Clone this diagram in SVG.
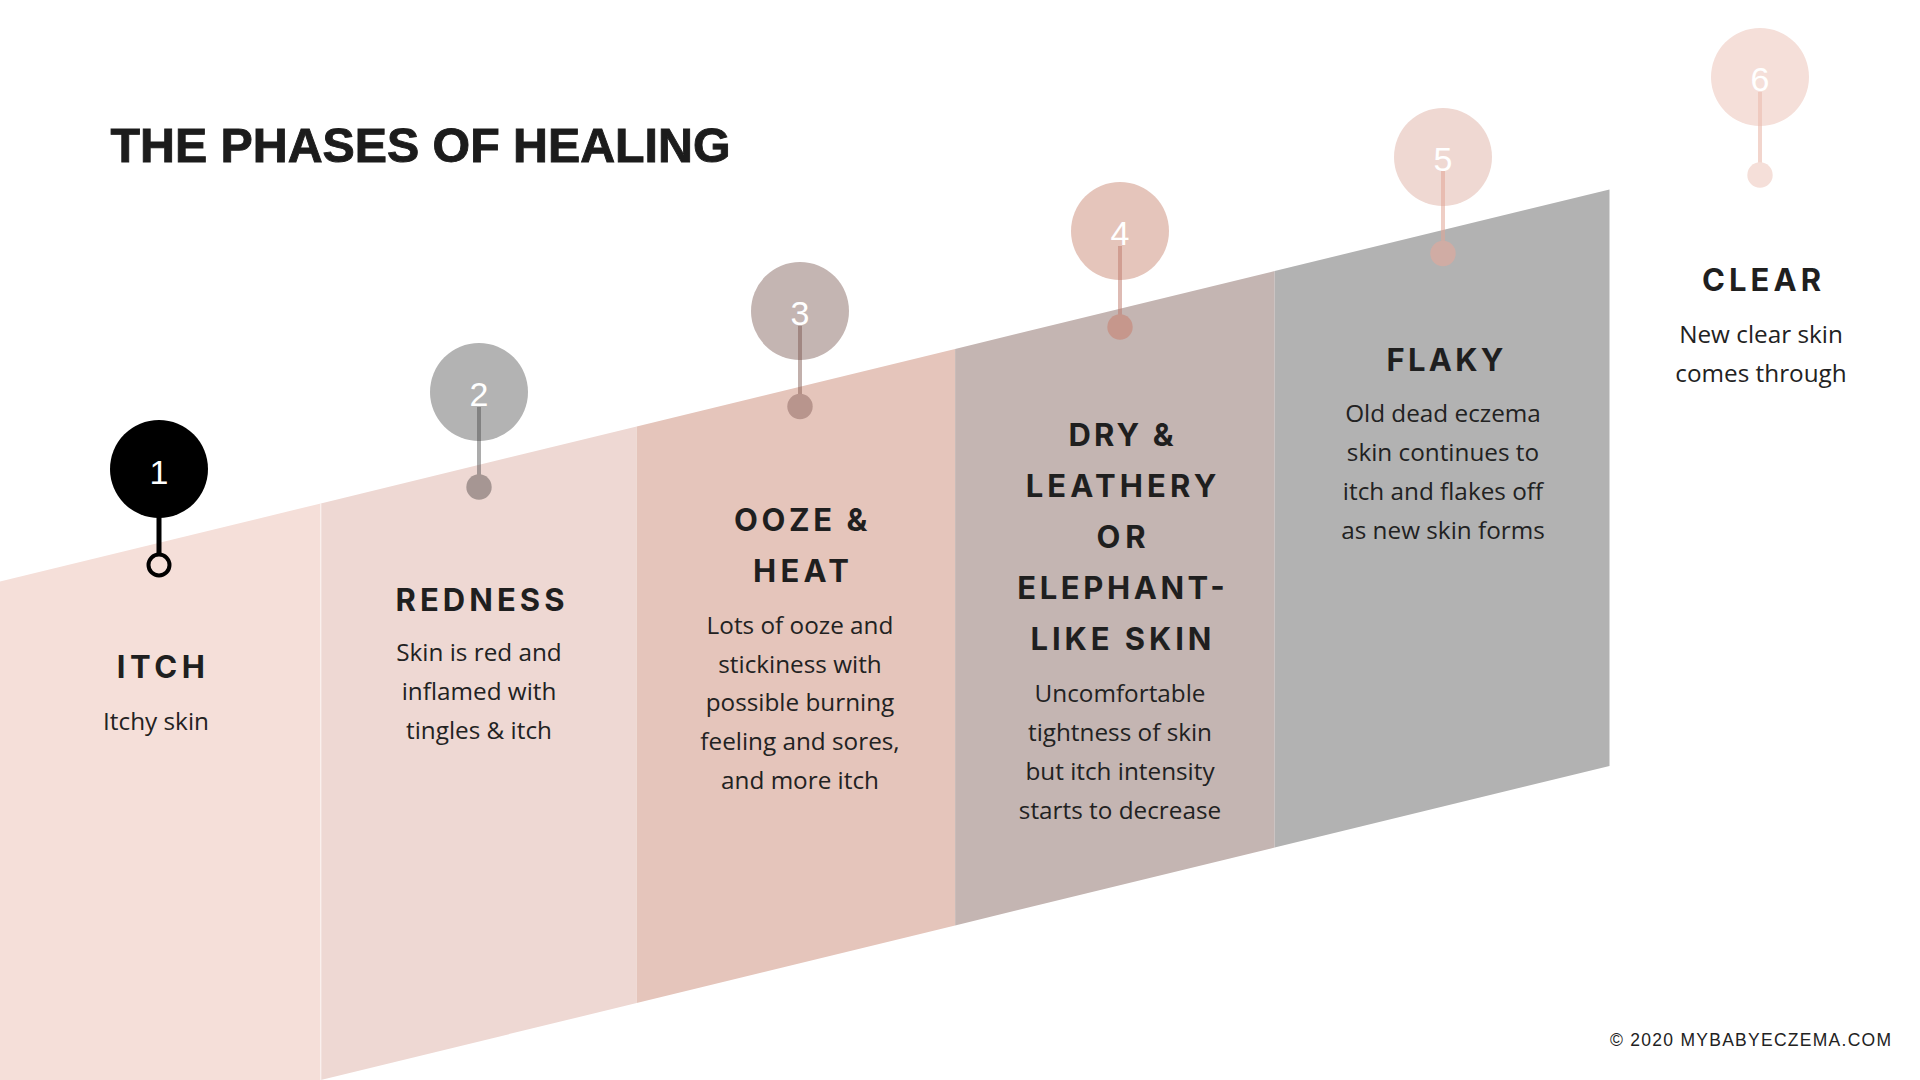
<svg xmlns="http://www.w3.org/2000/svg" width="1920" height="1080" viewBox="0 0 1920 1080">
<style>
.title{font-family:"Liberation Sans",Arial,sans-serif;font-weight:700;font-size:48px;fill:#1c1c1c;stroke:#1c1c1c;stroke-width:0.9px}
.num{font-family:"Liberation Sans",Arial,sans-serif;font-size:34px;fill:#ffffff;text-anchor:middle}
.head{font-family:Inter,"Liberation Sans",sans-serif;font-weight:700;font-size:31px;fill:#1f1f1f;text-anchor:middle}
.desc{font-family:"Open Sans","Liberation Sans",sans-serif;font-size:24.3px;fill:#222222;text-anchor:middle}
.copy{font-family:"Liberation Sans",Arial,sans-serif;font-size:17.5px;fill:#222222}
</style>
<rect width="1920" height="1080" fill="#ffffff"/>
<g id="bands">
<polygon points="0,581.6 320.8,503.4 320.8,1080 0,1080" fill="#F5DFD9"/>
<polygon points="320.8,503.4 636.7,426.4 636.7,1003 320.8,1080" fill="#EED8D3"/>
<polygon points="636.7,426.4 955.1,348.9 955.1,925.4 636.7,1003" fill="#E5C5BB"/>
<polygon points="955.1,348.9 1274.7,271 1274.7,847.6 955.1,925.4" fill="#C4B5B2"/>
<polygon points="1274.7,271 1609.5,189.4 1609.5,766 1274.7,847.6" fill="#B2B2B2"/>
<line x1="320.8" y1="503.4" x2="320.8" y2="1080" stroke="#ffffff" stroke-opacity="0.6" stroke-width="1.2"/>
</g>
<text class="title" x="110.5" y="162" textLength="620" lengthAdjust="spacingAndGlyphs">THE PHASES OF HEALING</text>
<g id="connectors">
<line x1="159" y1="515" x2="159" y2="555" stroke="#000" stroke-width="5"/>
<line x1="479" y1="407" x2="479" y2="488" stroke="rgb(70,70,70)" stroke-opacity="0.45" stroke-width="4"/>
<line x1="800" y1="326" x2="800" y2="407" stroke="rgb(120,80,72)" stroke-opacity="0.45" stroke-width="4"/>
<line x1="1120" y1="246" x2="1120" y2="327" stroke="rgb(190,120,105)" stroke-opacity="0.5" stroke-width="4"/>
<line x1="1443" y1="171" x2="1443" y2="252" stroke="rgb(225,165,150)" stroke-opacity="0.55" stroke-width="4"/>
<line x1="1760" y1="92" x2="1760" y2="173" stroke="rgb(235,190,178)" stroke-opacity="0.65" stroke-width="4"/>
</g>
<g id="phase1">
<circle cx="159" cy="469" r="49" fill="#000000"/>
<text class="num" x="159" y="484">1</text>
<circle cx="159" cy="565" r="10.5" fill="none" stroke="#000" stroke-width="4"/>
<text class="head" x="160.8" y="678" textLength="88" lengthAdjust="spacing">ITCH</text>
<text class="desc" x="156" y="729.6">Itchy skin</text>
</g>
<g id="phase2">
<circle cx="479" cy="392" r="49" fill="#B3B3B3"/>
<text class="num" x="479" y="406">2</text>
<line x1="479" y1="407" x2="479" y2="441" stroke="rgb(70,70,70)" stroke-opacity="0.45" stroke-width="4"/>
<circle cx="479" cy="487" r="12.7" fill="#A69693"/>
<text class="head" x="480" y="611" textLength="169" lengthAdjust="spacing">REDNESS</text>
<text class="desc" x="479" y="661">Skin is red and</text>
<text class="desc" x="479" y="700">inflamed with</text>
<text class="desc" x="479" y="739">tingles &amp; itch</text>
</g>
<g id="phase3">
<circle cx="800" cy="311" r="49" fill="#C4B5B2"/>
<text class="num" x="800" y="325">3</text>
<line x1="800" y1="326" x2="800" y2="360" stroke="rgb(120,80,72)" stroke-opacity="0.45" stroke-width="4"/>
<circle cx="800" cy="406.5" r="12.7" fill="#B8958D"/>
<text class="head" x="800.7" y="531" textLength="133.5" lengthAdjust="spacing">OOZE &amp;</text>
<text class="head" x="801" y="581.5" textLength="96" lengthAdjust="spacing">HEAT</text>
<text class="desc" x="800" y="633.5">Lots of ooze and</text>
<text class="desc" x="800" y="672.5">stickiness with</text>
<text class="desc" x="800" y="711">possible burning</text>
<text class="desc" x="800" y="750">feeling and sores,</text>
<text class="desc" x="800" y="789">and more itch</text>
</g>
<g id="phase4">
<circle cx="1120" cy="231" r="49" fill="#E5C5BB"/>
<text class="num" x="1120" y="245">4</text>
<line x1="1120" y1="246" x2="1120" y2="280" stroke="rgb(190,120,105)" stroke-opacity="0.5" stroke-width="4"/>
<circle cx="1120" cy="327" r="12.7" fill="#C6978C"/>
<text class="head" x="1121" y="446" textLength="105" lengthAdjust="spacing">DRY &amp;</text>
<text class="head" x="1121" y="497.4" textLength="190.6" lengthAdjust="spacing">LEATHERY</text>
<text class="head" x="1121" y="548" textLength="49" lengthAdjust="spacing">OR</text>
<text class="head" x="1121" y="599.3" textLength="207.6" lengthAdjust="spacing">ELEPHANT-</text>
<text class="head" x="1121" y="650" textLength="181" lengthAdjust="spacing">LIKE SKIN</text>
<text class="desc" x="1120" y="702">Uncomfortable</text>
<text class="desc" x="1120" y="741">tightness of skin</text>
<text class="desc" x="1120" y="780">but itch intensity</text>
<text class="desc" x="1120" y="818.5">starts to decrease</text>
</g>
<g id="phase5">
<circle cx="1443" cy="157" r="49" fill="#EFD8D2"/>
<text class="num" x="1443" y="171">5</text>
<line x1="1443" y1="171" x2="1443" y2="206" stroke="rgb(225,165,150)" stroke-opacity="0.55" stroke-width="4"/>
<circle cx="1443" cy="253.5" r="12.7" fill="#D0ACA4"/>
<text class="head" x="1445" y="371" textLength="117" lengthAdjust="spacing">FLAKY</text>
<text class="desc" x="1443" y="421.7">Old dead eczema</text>
<text class="desc" x="1443" y="460.5">skin continues to</text>
<text class="desc" x="1443" y="500">itch and flakes off</text>
<text class="desc" x="1443" y="538.5">as new skin forms</text>
</g>
<g id="phase6">
<circle cx="1760" cy="77" r="49" fill="#F5DFD9"/>
<text class="num" x="1760" y="91">6</text>
<line x1="1760" y1="92" x2="1760" y2="126" stroke="rgb(235,190,178)" stroke-opacity="0.65" stroke-width="4"/>
<circle cx="1760" cy="175" r="12.7" fill="#F5DFD9"/>
<text class="head" x="1761.5" y="291" textLength="119" lengthAdjust="spacing">CLEAR</text>
<text class="desc" x="1761" y="342.5">New clear skin</text>
<text class="desc" x="1761" y="381.5">comes through</text>
</g>
<text class="copy" x="1610" y="1046" textLength="281" lengthAdjust="spacing">© 2020 MYBABYECZEMA.COM</text>
</svg>
